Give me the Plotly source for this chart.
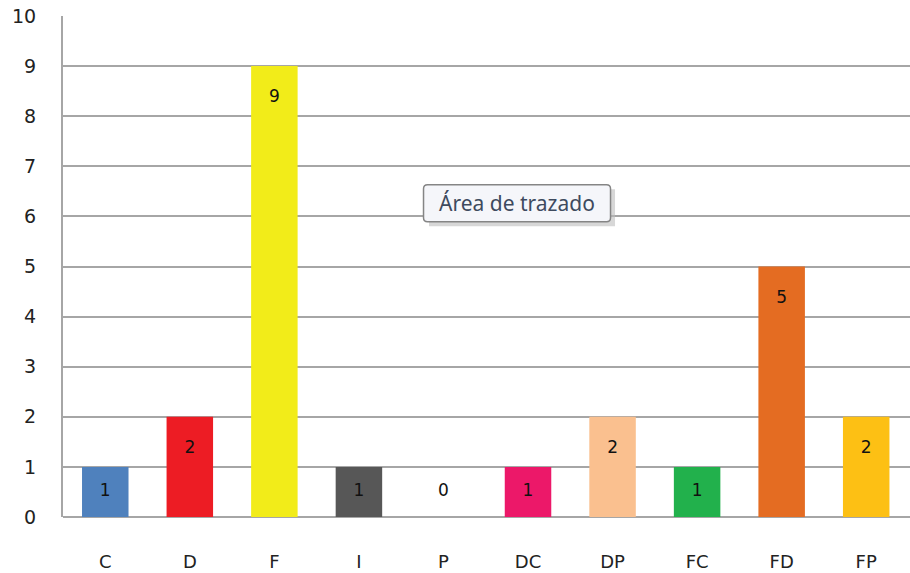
import plotly.graph_objects as go

categories = ["C", "D", "F", "I", "P", "DC", "DP", "FC", "FD", "FP"]
values = [1, 2, 9, 1, 0, 1, 2, 1, 5, 2]
colors = ["#4F81BD", "#ED1C24", "#F2EC19", "#575757", "#FFFFFF",
          "#EC1869", "#FAC08F", "#22B14C", "#E46C22", "#FDC014"]

# label sits inside the end of the bar, centred when bar is too short
label_y = [max(v - 0.64, 0.5) for v in values]

fig = go.Figure()
fig.add_trace(go.Bar(
    x=categories, y=values,
    marker=dict(color=colors, line=dict(width=0)),
    hoverinfo="skip",
))
fig.add_trace(go.Scatter(
    x=categories, y=label_y, mode="text",
    text=[str(v) for v in values],
    textfont=dict(family="DejaVu Sans", size=17, color="#111111"),
    hoverinfo="skip",
))

# Excel style tooltip: shadow, rounded box, text
tip_x, tip_y = 4.87, 6.26
box = ("M -89.5,-18.5 L 89.5,-18.5 Q 93.5,-18.5 93.5,-14.5 L 93.5,14.5 "
       "Q 93.5,18.5 89.5,18.5 L -89.5,18.5 Q -93.5,18.5 -93.5,14.5 "
       "L -93.5,-14.5 Q -93.5,-18.5 -89.5,-18.5 Z")
fig.add_shape(type="rect", xref="x", yref="y", xsizemode="pixel", ysizemode="pixel",
              xanchor=tip_x, yanchor=tip_y, x0=-88, x1=98, y0=-23, y1=14,
              fillcolor="#BDBDBD", opacity=0.6, line=dict(width=0))
fig.add_shape(type="path", xref="x", yref="y", xsizemode="pixel", ysizemode="pixel",
              xanchor=tip_x, yanchor=tip_y, path=box,
              fillcolor="#F5F6FA", line=dict(color="#858585", width=1.5))
fig.add_annotation(
    x=tip_x, y=tip_y, xref="x", yref="y",
    text="Área de trazado", showarrow=False,
    font=dict(family="Noto Sans", size=21, color="#3E4A5E"),
)

fig.update_layout(
    width=910, height=573,
    margin=dict(l=63, r=0, t=16, b=56),
    paper_bgcolor="white", plot_bgcolor="white",
    bargap=0.45, showlegend=False,
    font=dict(family="DejaVu Sans", size=19, color="#222222"),
)
fig.update_xaxes(
    range=[-0.5, 9.518], showgrid=False, showline=False, automargin=False,
    ticks="", ticklabelstandoff=32, zeroline=False,
    tickfont=dict(size=18),
)
fig.update_yaxes(
    range=[0, 10], dtick=1, showgrid=True, gridcolor="#A6A6A6", gridwidth=2,
    showline=True, linecolor="#A6A6A6", linewidth=2, mirror=False,
    zeroline=True, zerolinecolor="#A6A6A6", zerolinewidth=2, automargin=False,
    ticks="", ticklabelstandoff=21,
)

fig.write_html("out.html", config={"displayModeBar": False},
               post_script="document.body.style.margin='0';")
